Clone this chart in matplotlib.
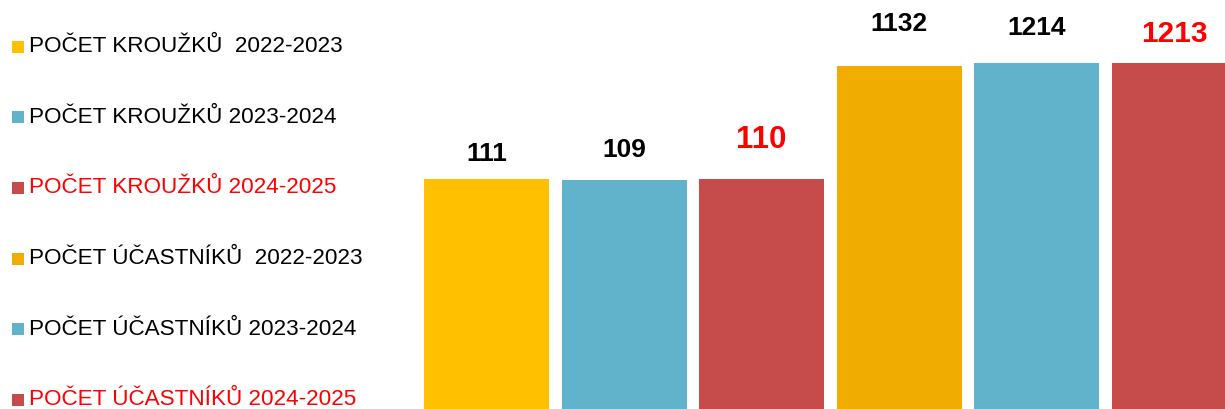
import matplotlib
matplotlib.use("Agg")
import matplotlib.pyplot as plt
from matplotlib.patches import Rectangle

plt.rcParams["font.family"] = ["Liberation Sans", "DejaVu Sans"]

# data
labels = [
    "POČET KROUŽKŮ  2022-2023",
    "POČET KROUŽKŮ 2023-2024",
    "POČET KROUŽKŮ 2024-2025",
    "POČET ÚČASTNÍKŮ  2022-2023",
    "POČET ÚČASTNÍKŮ 2023-2024",
    "POČET ÚČASTNÍKŮ 2024-2025",
]
values = [111, 109, 110, 1132, 1214, 1213]

# styles
bar_colors = ["#FFC000", "#60B3CB", "#C64B4B", "#F0AC00", "#60B3CB", "#C64B4B"]
text_colors = ["black", "black", "#FF0000", "black", "black", "#FF0000"]
label_sizes = [19, 19, 22.5, 19, 19, 21.5]
label_offsets = [18, 21.5, 28.5, 30, 25, 21]   # points above bar top

W, H = 1225, 409
fig = plt.figure(figsize=(W / 100, H / 100), dpi=100)

ax = fig.add_axes([417.75 / W, 0, 825 / W, 1])
x = range(len(values))
ax.bar(x, values, width=125 / 137.5, color=bar_colors, bottom=1)
ax.set_yscale("log")
ax.set_ylim(1, 10 ** (H / 112.3))
ax.set_xlim(-0.5, 5.5)
ax.axis("off")

for i, v in enumerate(values):
    ax.annotate(str(v), (i, v), xytext=(0, label_offsets[i]),
                textcoords="offset points", ha="center", va="center",
                fontsize=label_sizes[i], fontweight="bold",
                color=text_colors[i], annotation_clip=False)

# legend on the left
for i, lab in enumerate(labels):
    yc = 46.7 + i * 70.6
    fig.patches.append(Rectangle((12 / W, 1 - (yc + 6) / H), 12 / W, 12 / H,
                                 transform=fig.transFigure,
                                 color=bar_colors[i], lw=0))
    fig.text(29 / W, 1 - yc / H, lab, ha="left", va="center",
             fontsize=16.2, color=text_colors[i])

fig.savefig("out.png", dpi=100)
